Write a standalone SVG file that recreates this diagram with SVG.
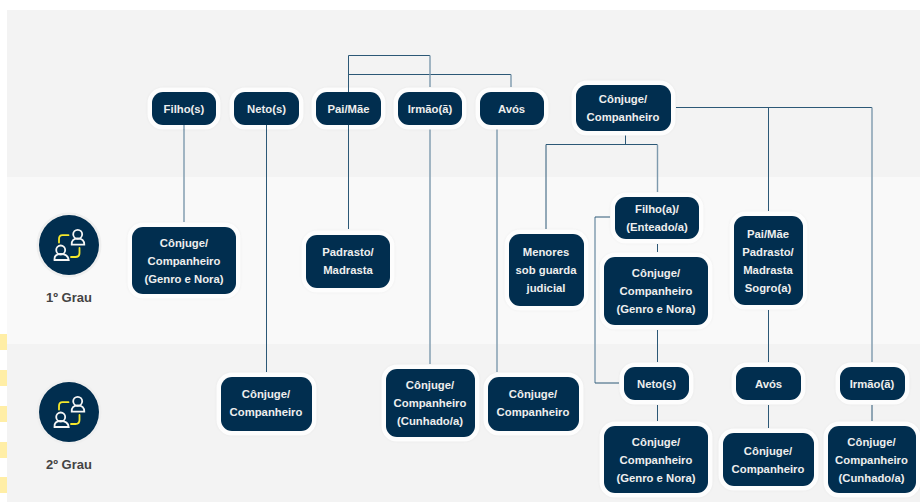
<svg xmlns="http://www.w3.org/2000/svg" xmlns:xlink="http://www.w3.org/1999/xlink" width="920" height="502" viewBox="0 0 920 502">
<style>
.n{fill:#012e4f;stroke:#fdfdfd;stroke-width:9;paint-order:stroke;filter:drop-shadow(0 0 1px rgba(0,0,0,.05))}
.t{font-family:"Liberation Sans",Arial,sans-serif;font-weight:700;font-size:11.3px;fill:#eeeeee;text-anchor:middle}
.g{font-family:"Liberation Sans",Arial,sans-serif;font-weight:700;font-size:13px;fill:#444;text-anchor:middle}
.c{fill:none;stroke:#2c5876;stroke-width:1}
.p{fill:none;stroke:#7d99ad;stroke-width:1.4}
.y{fill:#ffeea6}
</style>
<defs>
<g id="ic">
<circle r="30" fill="#012e4f" stroke="#efefef" stroke-width="5" paint-order="stroke"/>
<g fill="none" stroke="#f6f6f6" stroke-width="1.8">
<circle cx="8.7" cy="-10.7" r="4.5"/>
<path d="M2.7 -0.3Q2.3 -6.5 8.7 -6.5Q15.5 -6.5 15.3 -0.3Z"/>
<circle cx="-8.3" cy="5" r="4.5"/>
<path d="M-14.5 15Q-15 9 -8.3 9Q-1 9 -0.3 15Z"/>
</g>
<g fill="none" stroke="#f5e82c" stroke-width="1.8" stroke-linecap="round">
<path d="M-0.5 -9.8H-6.5Q-10 -9.8 -10 -6V-2.5"/>
<path d="M10.5 3V8Q10.5 12 6.5 12H2"/>
</g>
</g>
</defs>
<rect width="920" height="502" fill="#fff"/>
<rect x="7" y="10" width="913" height="167" fill="#f3f3f3"/>
<rect x="7" y="177" width="913" height="167" fill="#f9f9f9"/>
<rect x="7" y="344" width="913" height="158" fill="#f3f3f3"/>
<g id="margin">
<rect class="y" y="334" width="7" height="16"/>
<rect class="y" y="370" width="7" height="16"/>
<rect class="y" y="406" width="7" height="16"/>
<rect class="y" y="442" width="7" height="16"/>
<rect class="y" y="477" width="7" height="16"/>
</g>
<g id="connectors">
<path class="c" d="M348.500 92V55.500H430M348.500 74.500H511"/>
<path class="p" d="M430 55.500V87M511 74.500V87"/>
<path class="p" d="M184 124V222M430 129V364M497 129V372M657.500 145V192M595 217V383"/>
<path class="c" d="M266.500 124V372M348.500 124V229"/>
<path class="c" d="M625.500 135V144.500M546 229V144.500H657.500M657.500 244V252M610 217H595M595 383H619M657.500 330V362M657.500 405V421"/>
<path class="c" d="M676 107.500H872M768.500 107.500V211M768.500 310V362M768.500 405V428M872 405V421"/>
<path class="p" d="M872 107.500V362"/>
</g>
<g id="grau1"><use href="#ic" xlink:href="#ic" x="69" y="245"/><text class="g" x="69" y="302">1º Grau</text></g>
<g id="grau2"><use href="#ic" xlink:href="#ic" x="69" y="412"/><text class="g" x="69" y="469">2º Grau</text></g>
<g id="filhos"><rect class="n" x="152" y="92" width="64" height="33" rx="11"/><text class="t" x="184" y="112.500">Filho(s)</text></g>
<g id="netos"><rect class="n" x="234" y="92" width="65" height="33" rx="11"/><text class="t" x="266.500" y="112.500">Neto(s)</text></g>
<g id="paimae"><rect class="n" x="316" y="92" width="65" height="33" rx="11"/><text class="t" x="348.500" y="112.500">Pai/Mãe</text></g>
<g id="irmao"><rect class="n" x="398" y="92" width="64" height="33" rx="11"/><text class="t" x="430" y="112.500">Irmão(ã)</text></g>
<g id="avos"><rect class="n" x="480" y="92" width="64" height="33" rx="11"/><text class="t" x="511.500" y="112.500">Avós</text></g>
<g id="conjuge"><rect class="n" x="576" y="85" width="95" height="46" rx="11"/><text class="t" x="623" y="103">Cônjuge/</text><text class="t" x="623" y="121">Companheiro</text></g>
<g id="c1"><rect class="n" x="132" y="227" width="104" height="67" rx="11"/><text class="t" x="184" y="247">Cônjuge/</text><text class="t" x="184" y="265">Companheiro</text><text class="t" x="184" y="283">(Genro e Nora)</text></g>
<g id="padrasto"><rect class="n" x="306" y="235" width="84" height="53" rx="11"/><text class="t" x="348" y="256">Padrasto/</text><text class="t" x="348" y="274">Madrasta</text></g>
<g id="c2"><rect class="n" x="221" y="377" width="91" height="54" rx="11"/><text class="t" x="266" y="398">Cônjuge/</text><text class="t" x="266" y="416">Companheiro</text></g>
<g id="c3"><rect class="n" x="386" y="369" width="89" height="68" rx="11"/><text class="t" x="430" y="389">Cônjuge/</text><text class="t" x="430" y="407">Companheiro</text><text class="t" x="430" y="425">(Cunhado/a)</text></g>
<g id="c4"><rect class="n" x="488" y="377" width="91" height="54" rx="11"/><text class="t" x="533" y="398">Cônjuge/</text><text class="t" x="533" y="416">Companheiro</text></g>
<g id="menores"><rect class="n" x="509" y="234" width="75" height="72" rx="11"/><text class="t" x="546" y="256">Menores</text><text class="t" x="546" y="274">sob guarda</text><text class="t" x="546" y="292">judicial</text></g>
<g id="filhoa"><rect class="n" x="615" y="197" width="84" height="42" rx="11"/><text class="t" x="657" y="213">Filho(a)/</text><text class="t" x="657" y="231">(Enteado/a)</text></g>
<g id="c5"><rect class="n" x="604" y="257" width="104" height="68" rx="11"/><text class="t" x="656" y="277">Cônjuge/</text><text class="t" x="656" y="295">Companheiro</text><text class="t" x="656" y="313">(Genro e Nora)</text></g>
<g id="pais2"><rect class="n" x="734" y="216" width="69" height="89" rx="11"/><text class="t" x="768" y="238">Pai/Mãe</text><text class="t" x="768" y="256">Padrasto/</text><text class="t" x="768" y="274">Madrasta</text><text class="t" x="768" y="292">Sogro(a)</text></g>
<g id="neto2"><rect class="n" x="624" y="367" width="65" height="33" rx="11"/><text class="t" x="656.500" y="388">Neto(s)</text></g>
<g id="avos2"><rect class="n" x="736" y="367" width="65" height="33" rx="11"/><text class="t" x="768.500" y="388">Avós</text></g>
<g id="irmao2"><rect class="n" x="840" y="367" width="65" height="33" rx="11"/><text class="t" x="872" y="388">Irmão(ã)</text></g>
<g id="c6"><rect class="n" x="604" y="426" width="104" height="67" rx="11"/><text class="t" x="656" y="446">Cônjuge/</text><text class="t" x="656" y="464">Companheiro</text><text class="t" x="656" y="482">(Genro e Nora)</text></g>
<g id="c7"><rect class="n" x="723" y="433" width="91" height="53" rx="11"/><text class="t" x="768" y="455">Cônjuge/</text><text class="t" x="768" y="473">Companheiro</text></g>
<g id="c8"><rect class="n" x="828" y="426" width="88" height="67" rx="11"/><text class="t" x="871.500" y="446">Cônjuge/</text><text class="t" x="871.500" y="464">Companheiro</text><text class="t" x="871.500" y="482">(Cunhado/a)</text></g>
<g id="connectors-over">
<path class="c" d="M348.500 86V92M266.500 125V130M348.500 125V130"/>
<path class="p" d="M184 125V130"/>
</g>
</svg>
